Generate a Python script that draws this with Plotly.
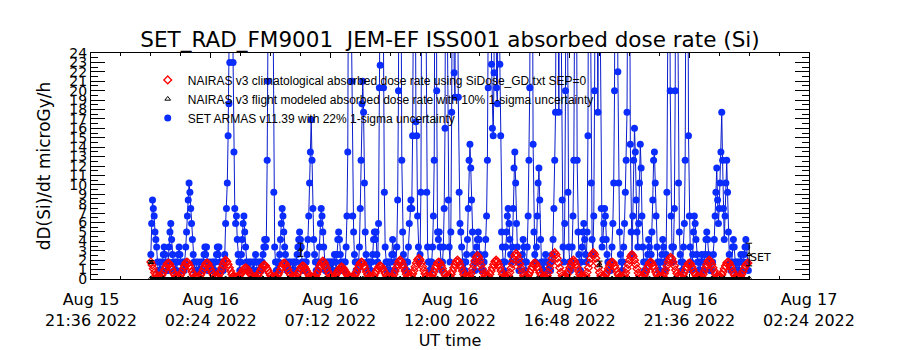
import plotly.graph_objects as go
import pandas as pd

# ---------------- data ----------------
# SET ARMAS v11.39 absorbed dose rate (microGy/h), 2-min cadence from 2022-08-16 00:00
set_vals = [
    2.6, 5.9, 8.4, 7.5, 6.7, 5.0, 4.2, 3.4, 1.8, 0.9, 0.9, 1.8, 0.9, 0.9, 1.8, 2.6, 3.4, 2.6, 1.8, 0.9, 0.9, 1.8, 3.4, 5.0,
    5.9, 4.2, 2.6, 1.8, 0.9, 0.9, 1.8, 0.9, 1.8, 2.6, 3.4, 2.6, 1.8, 0.9, 0.9, 1.8, 0.9, 1.8, 3.4, 5.0, 6.7, 8.4, 10.2, 9.2,
    7.5, 5.9, 4.2, 2.6, 1.8, 0.9, 0.9, 1.8, 0.9, 0.9, 1.8, 0.9, 0.9, 1.8, 0.9, 1.8, 2.6, 3.4, 2.6, 3.4, 1.8, 0.9, 0.9, 1.8,
    0.9, 0.9, 1.8, 0.9, 1.8, 0.9, 1.8, 2.6, 3.4, 2.6, 3.4, 1.8, 0.9, 0.9, 1.8, 0.9, 1.8, 2.6, 5.9, 7.5, 10.2, 15.2, 18.6, 23.0,
    35.0, 50.0, 40.0, 23.0, 13.5, 7.5, 5.9, 6.7, 4.2, 2.6, 1.8, 0.9, 1.8, 2.6, 4.2, 5.9, 6.7, 5.0, 3.4, 1.8, 0.9, 0.9, 1.8, 0.9,
    1.8, 0.9, 0.9, 1.8, 0.9, 1.8, 2.6, 1.8, 0.9, 0.9, 1.8, 0.9, 1.8, 0.9, 1.8, 2.6, 3.4, 4.2, 3.4, 4.2, 12.6, 21.0, 45.0, 60.0,
    70.0, 60.0, 45.0, 30.0, 9.2, 3.4, 1.8, 0.9, 1.8, 0.9, 1.8, 2.6, 4.2, 5.9, 7.5, 6.7, 5.0, 3.4, 2.6, 1.8, 0.9, 0.9, 1.8, 0.9,
    1.8, 0.9, 0.9, 1.8, 0.9, 1.8, 0.9, 1.8, 2.6, 3.4, 4.2, 5.0, 4.2, 3.4, 1.8, 0.9, 0.9, 1.8, 0.9, 1.8, 2.6, 4.2, 6.7, 10.2,
    13.5, 16.9, 12.6, 7.5, 4.2, 2.6, 1.8, 0.9, 1.8, 0.9, 1.8, 3.4, 5.9, 7.5, 6.7, 5.0, 3.4, 1.8, 0.9, 0.9, 1.8, 0.9, 1.8, 0.9,
    1.8, 0.9, 1.8, 0.9, 1.8, 2.6, 1.8, 0.9, 2.6, 4.2, 5.0, 4.2, 2.6, 1.8, 0.9, 0.9, 1.8, 0.9, 1.8, 3.4, 6.7, 13.5, 40.0, 60.0,
    55.0, 30.0, 21.0, 6.7, 5.0, 2.6, 1.8, 0.9, 1.8, 0.9, 1.8, 3.4, 7.5, 12.6, 18.6, 21.0, 17.7, 10.2, 5.0, 2.6, 1.8, 0.9, 1.8, 0.9,
    1.8, 0.9, 1.8, 2.6, 4.2, 5.0, 4.2, 5.0, 2.6, 1.8, 5.9, 20.3, 22.7, 45.0, 60.0, 40.0, 20.3, 9.2, 3.4, 1.8, 0.9, 1.8, 0.9, 1.8,
    0.9, 1.8, 2.6, 4.2, 2.6, 1.8, 0.9, 1.8, 3.4, 8.4, 20.0, 50.0, 60.0, 35.0, 12.6, 5.0, 2.6, 1.8, 0.9, 1.8, 0.9, 1.8, 3.4, 5.9,
    7.5, 8.4, 7.5, 15.2, 30.0, 60.0, 40.0, 16.7, 15.2, 6.7, 3.4, 1.8, 2.6, 9.2, 35.0, 60.0, 50.0, 40.0, 60.0, 30.0, 9.2, 3.4, 1.8, 0.9,
    1.8, 0.9, 1.8, 3.4, 6.7, 12.6, 40.0, 60.0, 20.0, 5.0, 4.2, 5.0, 3.4, 1.8, 0.9, 1.8, 3.4, 7.5, 16.0, 45.0, 60.0, 25.0, 8.4, 3.4,
    1.8, 5.0, 17.7, 40.0, 60.0, 21.9, 19.3, 45.0, 60.0, 35.0, 19.3, 9.2, 5.9, 5.0, 3.4, 1.8, 0.9, 1.8, 0.9, 1.8, 2.6, 4.2, 7.5, 12.6,
    14.3, 11.8, 8.4, 5.0, 2.6, 1.8, 0.9, 1.8, 3.4, 4.2, 5.0, 4.2, 2.6, 1.8, 0.9, 1.8, 0.9, 1.8, 2.6, 4.2, 6.7, 12.6, 20.3, 40.0,
    60.0, 50.0, 22.8, 16.0, 15.2, 21.9, 60.0, 45.0, 20.3, 18.6, 40.0, 60.0, 22.8, 15.2, 5.0, 3.4, 1.8, 0.9, 1.8, 3.4, 5.0, 6.7, 7.5, 5.9,
    4.2, 2.6, 1.8, 3.4, 7.5, 11.8, 13.5, 10.2, 5.9, 3.4, 1.8, 0.9, 1.8, 0.9, 1.8, 2.6, 4.2, 3.4, 1.8, 0.9, 1.8, 3.4, 6.7, 12.6,
    20.3, 50.0, 60.0, 40.0, 14.3, 5.0, 2.6, 1.8, 3.4, 6.7, 10.2, 11.8, 8.4, 4.2, 1.8, 0.9, 1.8, 0.9, 1.8, 2.6, 1.8, 0.9, 1.8, 0.9,
    1.8, 0.9, 1.8, 2.6, 4.2, 7.5, 12.6, 17.7, 45.0, 60.0, 30.0, 17.7, 40.0, 60.0, 25.0, 8.4, 3.4, 1.8, 5.9, 20.0, 60.0, 35.0, 9.2, 3.4,
    1.8, 0.9, 1.8, 3.4, 6.7, 12.6, 30.0, 60.0, 40.0, 12.6, 5.0, 2.6, 1.8, 0.9, 1.8, 3.4, 5.0, 5.9, 4.2, 2.6, 1.8, 5.0, 15.2, 45.0,
    60.0, 30.0, 10.2, 4.2, 2.6, 6.7, 20.0, 55.0, 60.0, 30.0, 17.7, 40.0, 60.0, 25.0, 7.5, 3.4, 4.2, 5.9, 7.5, 6.7, 4.2, 2.6, 1.8, 0.9,
    1.8, 0.9, 1.8, 3.4, 5.9, 10.2, 20.0, 50.0, 60.0, 40.0, 22.0, 10.2, 5.0, 2.6, 1.8, 0.9, 1.8, 3.4, 5.9, 9.2, 12.6, 17.7, 35.0, 60.0,
    40.0, 14.3, 5.0, 2.6, 6.7, 12.6, 16.0, 13.5, 8.4, 5.0, 3.4, 5.9, 10.2, 14.3, 11.8, 6.7, 3.4, 1.8, 0.9, 1.8, 0.9, 1.8, 2.6, 4.2,
    3.4, 1.8, 2.6, 5.0, 8.4, 12.6, 13.5, 10.2, 6.7, 3.4, 1.8, 0.9, 1.8, 0.9, 1.8, 2.6, 4.2, 3.4, 1.8, 0.9, 2.6, 9.2, 25.0, 60.0,
    50.0, 20.0, 6.7, 3.4, 1.8, 3.4, 7.5, 20.0, 55.0, 60.0, 30.0, 10.2, 5.0, 2.6, 1.8, 0.9, 1.8, 3.4, 5.9, 12.6, 35.0, 60.0, 45.0, 15.2,
    6.7, 3.4, 1.8, 0.9, 2.6, 5.0, 6.7, 5.9, 4.2, 2.6, 1.8, 0.9, 1.8, 0.9, 1.8, 2.6, 1.8, 0.9, 1.8, 2.6, 4.2, 5.0, 4.2, 2.6,
    1.8, 0.9, 1.8, 0.9, 1.8, 2.6, 4.2, 6.7, 9.2, 11.8, 8.4, 5.9, 7.5, 10.2, 13.5, 17.7, 12.6, 7.5, 4.2, 6.7, 10.2, 12.6, 9.2, 5.0,
    2.6, 1.8, 0.9, 1.8, 3.4, 4.2, 3.4, 1.8, 0.9, 1.8, 0.9, 1.8, 0.9, 1.8, 2.6, 1.8, 0.9, 1.8, 2.6, 3.4, 4.2, 3.4, 1.8, 0.9,
]

# NAIRAS v3 climatological absorbed dose rate, 3-min cadence from 2022-08-16 00:00
nairas_clim_vals = [
    1.8, 1.5, 1.1, 0.7, 0.4, 0.25, 0.2,
    0.2, 0.25, 0.45, 0.7, 1.0, 1.3, 1.6, 1.7, 1.6, 1.3, 1.0, 0.7, 0.45, 0.25, 0.2,
    0.2, 0.25, 0.45, 0.75, 1.1, 1.4, 1.7, 1.8, 1.7, 1.4, 1.1, 0.75, 0.45, 0.25, 0.2, 0.2,
    0.2, 0.25, 0.45, 0.7, 1.0, 1.3, 1.6, 1.7, 1.6, 1.3, 1.0, 0.7, 0.45, 0.25, 0.2,
    0.2, 0.25, 0.5, 0.85, 1.2, 1.55, 1.85, 2.0, 1.85, 1.55, 1.2, 0.85, 0.5, 0.25, 0.2, 0.2,
    0.2, 0.2, 0.35, 0.5, 0.7, 0.95, 1.1, 1.2, 1.1, 0.95, 0.7, 0.5, 0.35, 0.2, 0.2,
    0.2, 0.2, 0.4, 0.65, 0.9, 1.15, 1.4, 1.5, 1.4, 1.15, 0.9, 0.65, 0.4, 0.2, 0.2, 0.2,
    0.2, 0.25, 0.45, 0.7, 1.0, 1.3, 1.6, 1.7, 1.6, 1.3, 1.0, 0.7, 0.45, 0.25, 0.2,
    0.2, 0.2, 0.35, 0.6, 0.85, 1.1, 1.3, 1.4, 1.3, 1.1, 0.85, 0.6, 0.35, 0.2, 0.2, 0.2,
    0.2, 0.25, 0.5, 0.8, 1.15, 1.5, 1.75, 1.9, 1.75, 1.5, 1.15, 0.8, 0.5, 0.25, 0.2,
    0.2, 0.2, 0.35, 0.55, 0.8, 1.0, 1.2, 1.3, 1.2, 1.0, 0.8, 0.55, 0.35, 0.2, 0.2, 0.2,
    0.2, 0.25, 0.45, 0.75, 1.1, 1.4, 1.7, 1.8, 1.7, 1.4, 1.1, 0.75, 0.45, 0.25, 0.2,
    0.2, 0.2, 0.35, 0.6, 0.85, 1.1, 1.3, 1.4, 1.3, 1.1, 0.85, 0.6, 0.35, 0.2, 0.2, 0.2,
    0.2, 0.25, 0.5, 0.85, 1.2, 1.55, 1.85, 2.0, 1.85, 1.55, 1.2, 0.85, 0.5, 0.25, 0.2,
    0.2, 0.3, 0.55, 0.9, 1.3, 1.7, 2.05, 2.2, 2.05, 1.7, 1.3, 0.9, 0.55, 0.3, 0.2, 0.2,
    0.2, 0.25, 0.45, 0.75, 1.1, 1.4, 1.7, 1.8, 1.7, 1.4, 1.1, 0.75, 0.45, 0.25, 0.2,
    0.2, 0.25, 0.5, 0.85, 1.2, 1.55, 1.85, 2.0, 1.85, 1.55, 1.2, 0.85, 0.5, 0.25, 0.2, 0.2,
    0.2, 0.3, 0.6, 1.05, 1.5, 1.95, 2.3, 2.5, 2.3, 1.95, 1.5, 1.05, 0.6, 0.3, 0.2,
    0.2, 0.25, 0.5, 0.85, 1.2, 1.55, 1.85, 2.0, 1.85, 1.55, 1.2, 0.85, 0.5, 0.25, 0.2, 0.2,
    0.2, 0.35, 0.7, 1.15, 1.6, 2.1, 2.5, 2.7, 2.5, 2.1, 1.6, 1.15, 0.7, 0.35, 0.2,
    0.2, 0.25, 0.45, 0.7, 1.0, 1.3, 1.6, 1.7, 1.6, 1.3, 1.0, 0.7, 0.45, 0.25, 0.2, 0.2,
    0.2, 0.35, 0.7, 1.2, 1.7, 2.2, 2.6, 2.8, 2.6, 2.2, 1.7, 1.2, 0.7, 0.35, 0.2,
    0.2, 0.25, 0.5, 0.85, 1.2, 1.55, 1.85, 2.0, 1.85, 1.55, 1.2, 0.85, 0.5, 0.25, 0.2, 0.2,
    0.2, 0.35, 0.7, 1.2, 1.7, 2.2, 2.6, 2.8, 2.6, 2.2, 1.7, 1.2, 0.7, 0.35, 0.2,
    0.2, 0.25, 0.45, 0.75, 1.1, 1.4, 1.7, 1.8, 1.7, 1.4, 1.1, 0.75, 0.45, 0.25, 0.2, 0.2,
    0.2, 0.35, 0.65, 1.1, 1.55, 2.0, 2.4, 2.6, 2.4, 2.0, 1.55, 1.1, 0.65, 0.35, 0.2,
    0.2, 0.25, 0.45, 0.75, 1.1, 1.4, 1.7, 1.8, 1.7, 1.4, 1.1, 0.75, 0.45, 0.25, 0.2, 0.2,
    0.2, 0.3, 0.6, 0.95, 1.4, 1.8, 2.15, 2.3, 2.15, 1.8, 1.4, 0.95, 0.6, 0.3, 0.2,
    0.2, 0.25, 0.45, 0.7, 1.0, 1.3, 1.6, 1.7, 1.6, 1.3, 1.0, 0.7, 0.45, 0.25, 0.2, 0.2,
    0.2, 0.25, 0.5, 0.85, 1.2, 1.55, 1.85, 2.0, 1.85, 1.55, 1.2, 0.85, 0.5, 0.25, 0.2,
    0.2, 0.25, 0.45, 0.75, 1.1, 1.4, 1.7, 1.8, 1.7, 1.4, 1.1, 0.75, 0.45, 0.25, 0.2, 0.2,
    0.2, 0.3, 0.5, 0.8, 1.1, 1.4, 1.6, 1.7,
]

# NAIRAS v3 flight modeled absorbed dose rate near zero, 30-min cadence from 2022-08-16 00:00
nairas_flight_vals = [
    0.06, 0.05, 0.05, 0.06, 0.05, 0.05, 0.06, 0.05, 0.05, 0.06, 0.05, 0.05, 0.06,
    0.05, 0.05, 0.06, 0.05, 0.05, 0.06, 0.05, 0.05, 0.06, 0.05, 0.05, 0.06,
    0.05, 0.05, 0.06, 0.05, 0.05, 0.06, 0.05, 0.05, 0.06, 0.05, 0.05, 0.06,
    0.05, 0.05, 0.06, 0.05, 0.05, 0.06, 0.05, 0.05, 0.06, 0.05, 0.05, 0.06,
]
# flight-modeled points with 1-sigma error bars
flight_err_times = ["2022-08-16 00:00", "2022-08-16 06:00", "2022-08-16 18:00", "2022-08-17 00:00"]
flight_err_vals = [1.8, 3.1, 1.6, 2.6]
flight_err_sig = [0.15, 0.7, 0.3, 1.2]

tick_vals = ["2022-08-15 21:36", "2022-08-16 02:24", "2022-08-16 07:12", "2022-08-16 12:00",
             "2022-08-16 16:48", "2022-08-16 21:36", "2022-08-17 02:24"]
tick_text = ["Aug 15<br>21:36 2022", "Aug 16<br>02:24 2022", "Aug 16<br>07:12 2022",
             "Aug 16<br>12:00 2022", "Aug 16<br>16:48 2022", "Aug 16<br>21:36 2022",
             "Aug 17<br>02:24 2022"]

set_t = pd.date_range("2022-08-16 00:00", periods=len(set_vals), freq="2min")
clim_t = pd.date_range("2022-08-16 00:00", periods=len(nairas_clim_vals), freq="3min")
flight_t = pd.date_range("2022-08-16 00:00", periods=len(nairas_flight_vals), freq="30min")

BLUE = "#0a2cff"
BLUE_LINE = "#0a1ccc"

fig = go.Figure()
fig.add_trace(go.Scatter(x=set_t, y=set_vals, mode="lines",
                         line=dict(color=BLUE_LINE, width=1), showlegend=False, hoverinfo="skip"))
fig.add_trace(go.Scatter(x=set_t, y=set_vals, mode="markers",
                         marker=dict(symbol="circle", size=7, color=BLUE),
                         name="SET ARMAS v11.39 with 22% 1-sigma uncertainty", legendrank=3))
fig.add_trace(go.Scatter(x=clim_t, y=nairas_clim_vals, mode="markers",
                         marker=dict(symbol="diamond-open", size=6, color="#ff0000", line=dict(width=1.3)),
                         name="NAIRAS v3 climatological absorbed dose rate using SiDose_GD.txt SEP=0",
                         legendrank=1))
fig.add_trace(go.Scatter(x=flight_t, y=nairas_flight_vals, mode="lines",
                         line=dict(color="black", width=3), showlegend=False, hoverinfo="skip"))
fig.add_trace(go.Scatter(x=flight_t, y=nairas_flight_vals, mode="markers",
                         marker=dict(symbol="triangle-up-open", size=5, color="black", line=dict(width=1)),
                         name="NAIRAS v3 flight modeled absorbed dose rate with 10% 1-sigma uncertainty",
                         legendrank=2))
fig.add_trace(go.Scatter(x=pd.to_datetime(flight_err_times), y=flight_err_vals, mode="markers",
                         marker=dict(symbol="triangle-up-open", size=4, color="black", line=dict(width=1)),
                         error_y=dict(type="data", array=flight_err_sig, color="black", thickness=1, width=3),
                         showlegend=False))

fig.add_annotation(x="2022-08-17 00:28", y=2.3, xref="x", yref="y", text="SET", showarrow=False,
                   font=dict(family="DejaVu Sans", size=11, color="black"))

axis_common = dict(showline=True, linecolor="black", linewidth=1, mirror="allticks",
                   ticks="inside", tickcolor="black", showgrid=False, zeroline=False,
                   automargin=False)

fig.update_layout(
    width=900, height=350,
    margin=dict(l=91, r=91, t=53, b=71),
    paper_bgcolor="white", plot_bgcolor="white",
    title=dict(text="SET_RAD_FM9001  JEM-EF ISS001 absorbed dose rate (Si)",
               x=0.5, xanchor="center", y=0.886, yanchor="middle",
               font=dict(family="DejaVu Sans", size=21.5, color="black")),
    xaxis=dict(type="date", range=["2022-08-15 21:36", "2022-08-17 02:24"],
               tickmode="array", tickvals=tick_vals, ticktext=tick_text, ticklen=5,
               ticklabelstandoff=6,
               tickfont=dict(family="DejaVu Sans", size=16, color="black"),
               minor=dict(tick0="2022-08-15 21:36", dtick=72 * 60 * 1000, ticklen=3,
                          ticks="inside", tickcolor="black"),
               title=dict(text="UT time", standoff=8,
                          font=dict(family="DejaVu Sans", size=16, color="black")),
               **axis_common),
    yaxis=dict(range=[0, 24], tickmode="linear", tick0=0, dtick=1, ticklen=14,
               tickfont=dict(family="DejaVu Sans", size=14, color="black"),
               minor=dict(dtick=0.5, ticklen=7, ticks="inside", tickcolor="black"),
               title=dict(text="dD(Si)/dt microGy/h", standoff=14,
                          font=dict(family="DejaVu Sans", size=17, color="black")),
               **axis_common),
    legend=dict(x=0.079, y=0.945, xanchor="left", yanchor="top", bgcolor="rgba(0,0,0,0)",
                font=dict(family="Liberation Sans", size=12, color="black"),
                traceorder="normal", itemwidth=30, tracegroupgap=0),
    showlegend=True,
)

fig.write_html("out.html")
